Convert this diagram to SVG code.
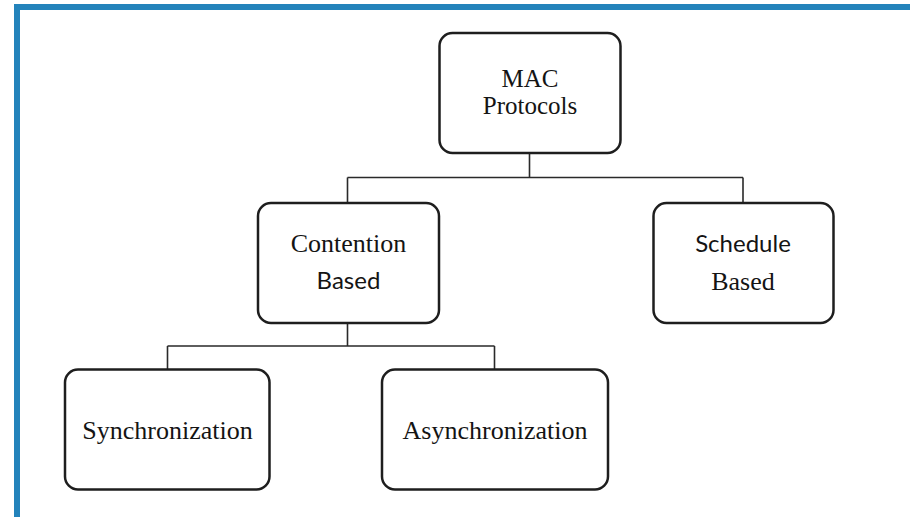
<svg xmlns="http://www.w3.org/2000/svg" width="910" height="517" viewBox="0 0 910 517">
  <style>
    .box { fill: #ffffff; stroke: #1e1e1e; stroke-width: 2.5; }
    .link { fill: none; stroke: #2a2a2a; stroke-width: 1.6; }
    .serif { font-family: "Liberation Serif", "Times New Roman", serif; font-size: 26px; fill: #141414; text-anchor: middle; }
    .tight { font-size: 25px; }
    .sans { font-family: Lato, "Liberation Sans", sans-serif; font-size: 24px; fill: #141414; text-anchor: middle; }
  </style>
  <rect width="910" height="517" fill="#ffffff"/>
  <!-- frame: blue rule along top and left -->
  <path d="M17 517 V7 H910" fill="none" stroke="#2383bb" stroke-width="6"/>

  <g id="connectors">
    <path class="link" d="M529.5 153 V177.5 M347.5 177.5 H743 M347.5 177.5 V203 M743 177.5 V203"/>
    <path class="link" d="M347.5 323 V346 M167.5 346 H494.5 M167.5 346 V369 M494.5 346 V369"/>
  </g>

  <g id="mac-protocols">
    <rect class="box" x="439.5" y="33" width="181" height="120" rx="13"/>
    <text class="serif tight" x="530" y="87">MAC</text>
    <text class="serif tight" x="530" y="114">Protocols</text>
  </g>

  <g id="contention-based">
    <rect class="box" x="258" y="203" width="181" height="120" rx="13"/>
    <text class="serif" x="348.5" y="252">Contention</text>
    <text class="sans" x="348.5" y="289">Based</text>
  </g>

  <g id="schedule-based">
    <rect class="box" x="653.5" y="203" width="180" height="120" rx="13"/>
    <text class="sans" x="743" y="252">Schedule</text>
    <text class="serif" x="743" y="290">Based</text>
  </g>

  <g id="synchronization">
    <rect class="box" x="65" y="369.5" width="204.5" height="120" rx="13"/>
    <text class="serif" x="167.5" y="438.5">Synchronization</text>
  </g>

  <g id="asynchronization">
    <rect class="box" x="382" y="369.5" width="226" height="120" rx="13"/>
    <text class="serif" x="495" y="438.5">Asynchronization</text>
  </g>
</svg>
